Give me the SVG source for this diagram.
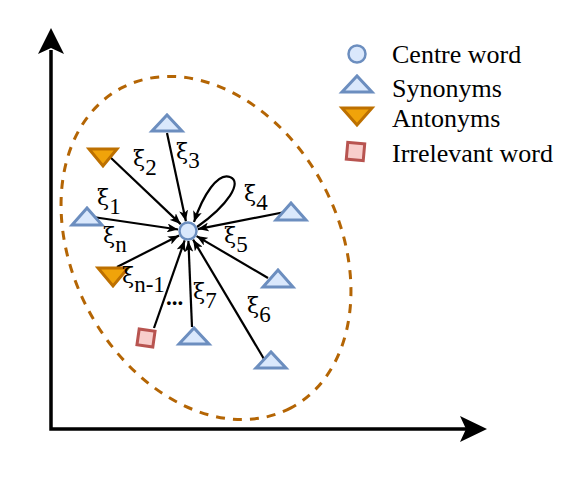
<svg xmlns="http://www.w3.org/2000/svg" width="582" height="487" viewBox="0 0 582 487">
<style>
.syn{fill:#dae8fc;stroke:#6c8ebf;stroke-width:3;stroke-linejoin:miter}
.ant{fill:#f0a30a;stroke:#BD7000;stroke-width:3}
.irr{fill:#f8cecc;stroke:#b85450;stroke-width:3}
.ctr{fill:#dae8fc;stroke:#6c8ebf;stroke-width:2.5}
.edge{fill:none;stroke:#000;stroke-width:2.2;marker-end:url(#arr)}
.lbl{font-family:"Liberation Serif","Times New Roman",serif;font-size:23px;fill:#000}
.xi{font-family:"DejaVu Serif","Liberation Serif",serif;font-size:22px}
.sub{font-size:23px}
.leg{font-family:"Liberation Serif","Times New Roman",serif;font-size:26px;fill:#000}
.axis{stroke:#000;stroke-width:3.5;fill:none}
</style>
<defs>
<marker id="arr" markerUnits="userSpaceOnUse" viewBox="0 0 11 9" markerWidth="11" markerHeight="9" refX="11" refY="4.5" orient="auto">
<path d="M0,0 L11,4.5 L0,9 L2.8,4.5 Z" fill="#000"/>
</marker>
</defs>

<g id="axes">
<path class="axis" d="M51,50 L51,429 L467,429"/>
<polygon points="51,28 64,54 51,48 38,54" fill="#000"/>
<polygon points="487,429 460,416 466,429 460,442" fill="#000"/>
</g>

<g id="cluster">
<ellipse cx="206" cy="248" rx="181" ry="133" transform="rotate(62 206 248)" fill="none" stroke="#b46504" stroke-width="3" stroke-dasharray="9 8"/>
</g>

<g id="connectors">
<line class="edge" x1="167" y1="133" x2="185.9" y2="221.2"/>
<line class="edge" x1="110" y1="157" x2="180.7" y2="224.1"/>
<line class="edge" x1="93" y1="217" x2="178.1" y2="229.5"/>
<line class="edge" x1="285" y1="212" x2="197.8" y2="229.1"/>
<line class="edge" x1="268" y1="278" x2="196.6" y2="236.1"/>
<line class="edge" x1="117" y1="267" x2="179.1" y2="235.5"/>
<line class="edge" x1="154" y1="328" x2="184.7" y2="240.4"/>
<line class="edge" x1="192" y1="327" x2="188.4" y2="241"/>
<line class="edge" x1="264" y1="359" x2="193.1" y2="239.6"/>
<path class="edge" d="M197,227 C228,205 243,182 230,177 C218,172 203,195 194,222"/>
</g>

<g id="centre"><circle class="ctr" cx="188" cy="231" r="8.5"/></g>
<g id="syn3"><polygon class="syn" points="152,131 182,131 167,115"/></g>
<g id="ant2"><polygon class="ant" points="89,149 117,149 103,166"/></g>
<g id="syn1"><polygon class="syn" points="72,225 102,225 87,208"/></g>
<g id="syn4"><polygon class="syn" points="276,220 306,220 291,203"/></g>
<g id="syn5"><polygon class="syn" points="263,287 293,287 278,270"/></g>
<g id="antn"><polygon class="ant" points="98,268 128,268 113,286"/></g>
<g id="irr"><rect class="irr" x="138" y="330" width="16" height="16" transform="rotate(8 146 338)"/></g>
<g id="syn7"><polygon class="syn" points="179,344 209,344 194,328"/></g>
<g id="syn6"><polygon class="syn" points="256,368 286,368 271,352"/></g>

<g id="labels">
<text class="lbl" x="133" y="166"><tspan class="xi">ξ</tspan><tspan class="sub" dy="9">2</tspan></text>
<text class="lbl" x="176" y="159"><tspan class="xi">ξ</tspan><tspan class="sub" dy="9">3</tspan></text>
<text class="lbl" x="97" y="205"><tspan class="xi">ξ</tspan><tspan class="sub" dy="9">1</tspan></text>
<text class="lbl" x="103" y="243"><tspan class="xi">ξ</tspan><tspan class="sub" dy="9">n</tspan></text>
<text class="lbl" x="244" y="201"><tspan class="xi">ξ</tspan><tspan class="sub" dy="9">4</tspan></text>
<text class="lbl" x="224" y="243"><tspan class="xi">ξ</tspan><tspan class="sub" dy="9">5</tspan></text>
<text class="lbl" x="122" y="283"><tspan class="xi">ξ</tspan><tspan class="sub" dy="9">n-1</tspan></text>
<text class="lbl" x="193" y="299"><tspan class="xi">ξ</tspan><tspan class="sub" dy="9">7</tspan></text>
<text class="lbl" x="247" y="313"><tspan class="xi">ξ</tspan><tspan class="sub" dy="9">6</tspan></text>
<text class="lbl" x="166" y="305" font-family="DejaVu Serif, serif" font-size="19" font-weight="bold">...</text>
</g>

<g id="legend">
<circle class="ctr" cx="357" cy="54" r="8.5"/>
<polygon class="syn" points="342,92 372,92 357,76"/>
<polygon class="ant" points="342,108 372,108 357,125"/>
<rect class="irr" x="347" y="143" width="17" height="17" transform="rotate(5 355.5 151.5)"/>
<text class="leg" x="392" y="63">Centre word</text>
<text class="leg" x="392" y="97">Synonyms</text>
<text class="leg" x="392" y="127">Antonyms</text>
<text class="leg" x="392" y="162">Irrelevant word</text>
</g>
</svg>
